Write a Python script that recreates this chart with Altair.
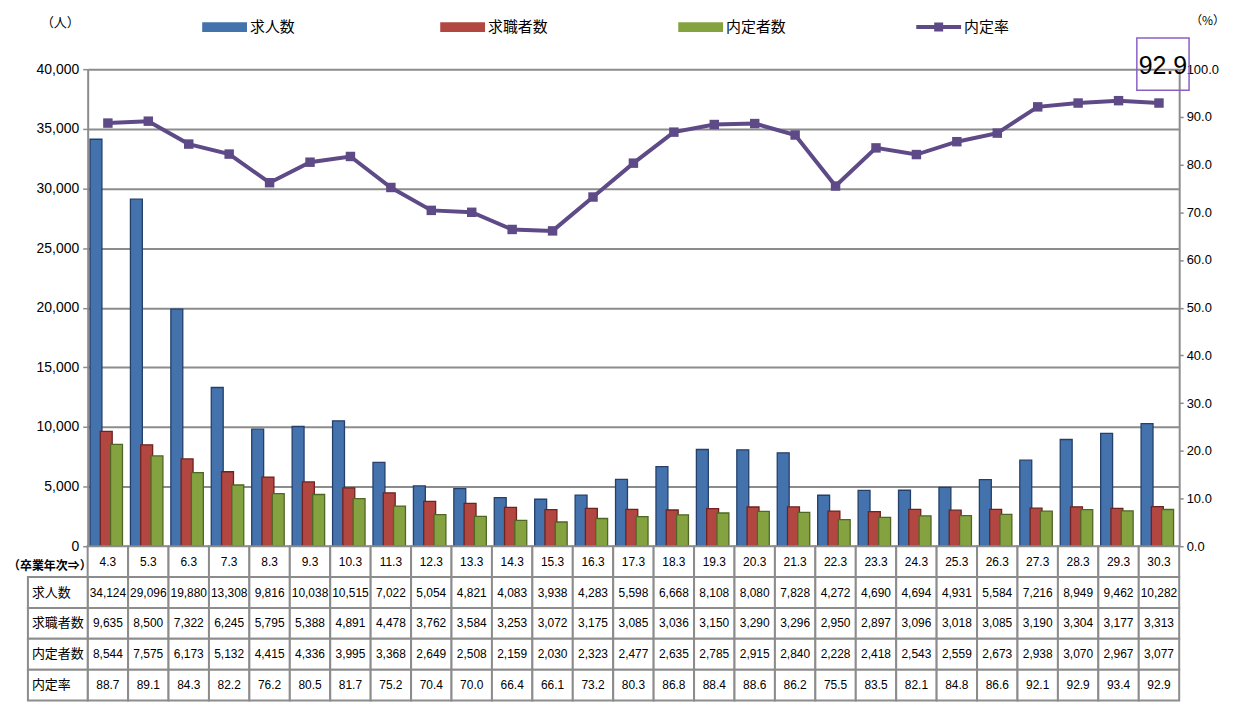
import altair as alt
import pandas as pd

# ---------------- data ----------------
cats = ["4.3", "5.3", "6.3", "7.3", "8.3", "9.3", "10.3", "11.3", "12.3", "13.3",
        "14.3", "15.3", "16.3", "17.3", "18.3", "19.3", "20.3", "21.3", "22.3", "23.3",
        "24.3", "25.3", "26.3", "27.3", "28.3", "29.3", "30.3"]
kyujin = [34124, 29096, 19880, 13308, 9816, 10038, 10515, 7022, 5054, 4821,
          4083, 3938, 4283, 5598, 6668, 8108, 8080, 7828, 4272, 4690,
          4694, 4931, 5584, 7216, 8949, 9462, 10282]
kyushoku = [9635, 8500, 7322, 6245, 5795, 5388, 4891, 4478, 3762, 3584,
            3253, 3072, 3175, 3085, 3036, 3150, 3290, 3296, 2950, 2897,
            3096, 3018, 3085, 3190, 3304, 3177, 3313]
naitei = [8544, 7575, 6173, 5132, 4415, 4336, 3995, 3368, 2649, 2508,
          2159, 2030, 2323, 2477, 2635, 2785, 2915, 2840, 2228, 2418,
          2543, 2559, 2673, 2938, 3070, 2967, 3077]
rate = [88.7, 89.1, 84.3, 82.2, 76.2, 80.5, 81.7, 75.2, 70.4, 70.0,
        66.4, 66.1, 73.2, 80.3, 86.8, 88.4, 88.6, 86.2, 75.5, 83.5,
        82.1, 84.8, 86.6, 92.1, 92.9, 93.4, 92.9]

bar_names = ["求人数", "求職者数", "内定者数"]
rate_name = "内定率"
legend_names = bar_names + [rate_name]
left_ticks = [0, 5000, 10000, 15000, 20000, 25000, 30000, 35000, 40000]
right_ticks = [0, 10, 20, 30, 40, 50, 60, 70, 80, 90, 100]
row_keys = ["hdr", "求人数", "求職者数", "内定者数", "内定率"]
header_label = "（卒業年次⇒）"

# ---------------- style ----------------
FILLS = ["#4472AC", "#B24742", "#84A340"]
STROKES = ["#24406A", "#6E2320", "#4F6625"]
PURPLE = "#5E4A86"
BOX = "#8B5FC7"
GRID = "#8C8C8C"
NUM_FONT = "Liberation Sans"
JP_FONT = "Noto Sans CJK JP"
W, H = 1096, 479
ROW_H = 31

# ---------------- tables ----------------
bar_df = pd.DataFrame(
    [{"cat": c, "series": s, "value": v}
     for s, vals in zip(bar_names, [kyujin, kyushoku, naitei])
     for c, v in zip(cats, vals)]
)
rate_df = pd.DataFrame({"cat": cats, "rate": rate})
last_df = pd.DataFrame({"cat": [cats[-1]], "rate": [rate[-1]]})
legend_df = pd.DataFrame({"series": legend_names})

table_rows = []
for i, c in enumerate(cats):
    table_rows.append({"cat": c, "row": "hdr", "label": c})
    table_rows.append({"cat": c, "row": "求人数", "label": f"{kyujin[i]:,}"})
    table_rows.append({"cat": c, "row": "求職者数", "label": f"{kyushoku[i]:,}"})
    table_rows.append({"cat": c, "row": "内定者数", "label": f"{naitei[i]:,}"})
    table_rows.append({"cat": c, "row": "内定率", "label": f"{rate[i]:.1f}"})
table_df = pd.DataFrame(table_rows)
lab_df = pd.DataFrame({"row": row_keys[1:]})
hdr_df = pd.DataFrame({"row": ["hdr"], "label": [header_label]})

# ---------------- main chart ----------------
x_scale = alt.Scale(domain=cats, paddingInner=0.237, paddingOuter=0.1185)
x_enc = alt.X("cat:N", scale=x_scale, axis=None)

bars = alt.Chart(bar_df).mark_bar(width=alt.RelativeBandSize(1.16), strokeWidth=1.3).encode(
    x=x_enc,
    xOffset=alt.XOffset("series:N", scale=alt.Scale(domain=bar_names, paddingInner=0, paddingOuter=0)),
    y=alt.Y("value:Q", scale=alt.Scale(domain=[0, 40000]),
            axis=alt.Axis(orient="left", values=left_ticks, format=",d", title="（人）",
                          titleAngle=0, titleX=-28, titleY=-47, titleAlign="center",
                          titleBaseline="middle", titleFont=JP_FONT, titleFontSize=13,
                          titleFontWeight="normal", titleColor="black",
                          grid=True, gridColor=GRID, gridWidth=2,
                          domainColor=GRID, domainWidth=2, tickColor=GRID, tickSize=5,
                          tickWidth=1.5, labelFont=NUM_FONT, labelFontSize=14,
                          labelColor="black", labelPadding=4)),
    fill=alt.Fill("series:N", scale=alt.Scale(domain=bar_names, range=FILLS), legend=None),
    stroke=alt.Stroke("series:N", scale=alt.Scale(domain=bar_names, range=STROKES), legend=None),
)

line = alt.Chart(rate_df).mark_line(
    color=PURPLE, strokeWidth=4,
    point=alt.OverlayMarkDef(shape="square", size=90, filled=True, color=PURPLE),
).encode(
    x=x_enc,
    y=alt.Y("rate:Q", scale=alt.Scale(domain=[0, 100]),
            axis=alt.Axis(orient="right", values=right_ticks, format=".1f", title="（%）",
                          titleAngle=0, titleX=28, titleY=-49, titleAlign="center",
                          titleBaseline="middle", titleFont=JP_FONT, titleFontSize=12,
                          titleFontWeight="normal", titleColor="black",
                          grid=False, domainColor=GRID, domainWidth=2, tickColor=GRID,
                          tickSize=4, tickWidth=1.5, labelFont=NUM_FONT, labelFontSize=13,
                          labelColor="black", labelPadding=3)),
)

bar_path = "M-1,-0.22H1V0.22H-1Z"
line_path = "M-1,-0.09H1V0.09H-1Z M-0.2,-0.2H0.2V0.2H-0.2Z"
SYM = 2025
leg = alt.Legend(title=None, orient="none", legendX=115, legendY=-65,
                 direction="horizontal", columns=4, columnPadding=130, gridAlign="all",
                 symbolSize=SYM, symbolOpacity=1, symbolStrokeWidth=0,
                 labelFont=JP_FONT, labelFontSize=15, labelColor="black", labelOffset=3)
legend_layer = alt.Chart(legend_df).mark_point(filled=True, opacity=0, size=SYM).encode(
    color=alt.Color("series:N", scale=alt.Scale(domain=legend_names, range=FILLS + [PURPLE]), legend=leg),
    shape=alt.Shape("series:N", scale=alt.Scale(domain=legend_names,
                                               range=[bar_path, bar_path, bar_path, line_path]), legend=leg),
)

box = alt.Chart(last_df).mark_point(shape="square", size=2750, filled=False, xOffset=4,
                                    stroke=BOX, strokeWidth=1.5, opacity=1).encode(
    x=x_enc, y=alt.value(-5))
box_text = alt.Chart(last_df).mark_text(font=NUM_FONT, fontSize=25, color="black", xOffset=4,
                                        baseline="middle").encode(
    x=x_enc, y=alt.value(-3), text=alt.Text("rate:Q", format=".1f"))

main = alt.layer(bars, line, legend_layer, box, box_text).resolve_scale(
    y="independent").properties(width=W, height=H)

# ---------------- table ----------------
ty = alt.Y("row:N", scale=alt.Scale(domain=row_keys, paddingInner=0, paddingOuter=0), axis=None)
tx = alt.X("cat:N", scale=alt.Scale(domain=cats, paddingInner=0, paddingOuter=0), axis=None)

cells = alt.Chart(table_df).mark_rect(fill="white", stroke=GRID, strokeWidth=2).encode(x=tx, y=ty)
cell_text = alt.Chart(table_df).mark_text(font=NUM_FONT, fontSize=12, color="black").encode(
    x=tx, y=ty, text="label:N")
lab_cells = alt.Chart(lab_df).mark_rect(fill="white", stroke=GRID, strokeWidth=2).encode(
    x=alt.value(-60), x2=alt.value(0), y=ty)
lab_text = alt.Chart(lab_df).mark_text(font=JP_FONT, fontSize=13, align="left", color="black").encode(
    x=alt.value(-56), y=ty, text="row:N")
hdr_text = alt.Chart(hdr_df).mark_text(font=JP_FONT, fontSize=12, fontWeight="bold",
                                       align="left", color="black", dy=4).encode(
    x=alt.value(-80), y=ty, text="label:N")

table = alt.layer(cells, cell_text, lab_cells, lab_text, hdr_text).properties(
    width=W, height=ROW_H * len(row_keys))

chart = alt.vconcat(main, table, spacing=0, bounds="flush").properties(
    padding={"left": 0, "top": -5, "right": 0, "bottom": 0},
    background="white",
).configure_view(strokeWidth=0)

chart.save("out.html", embed_options={"renderer": "svg", "actions": False})
